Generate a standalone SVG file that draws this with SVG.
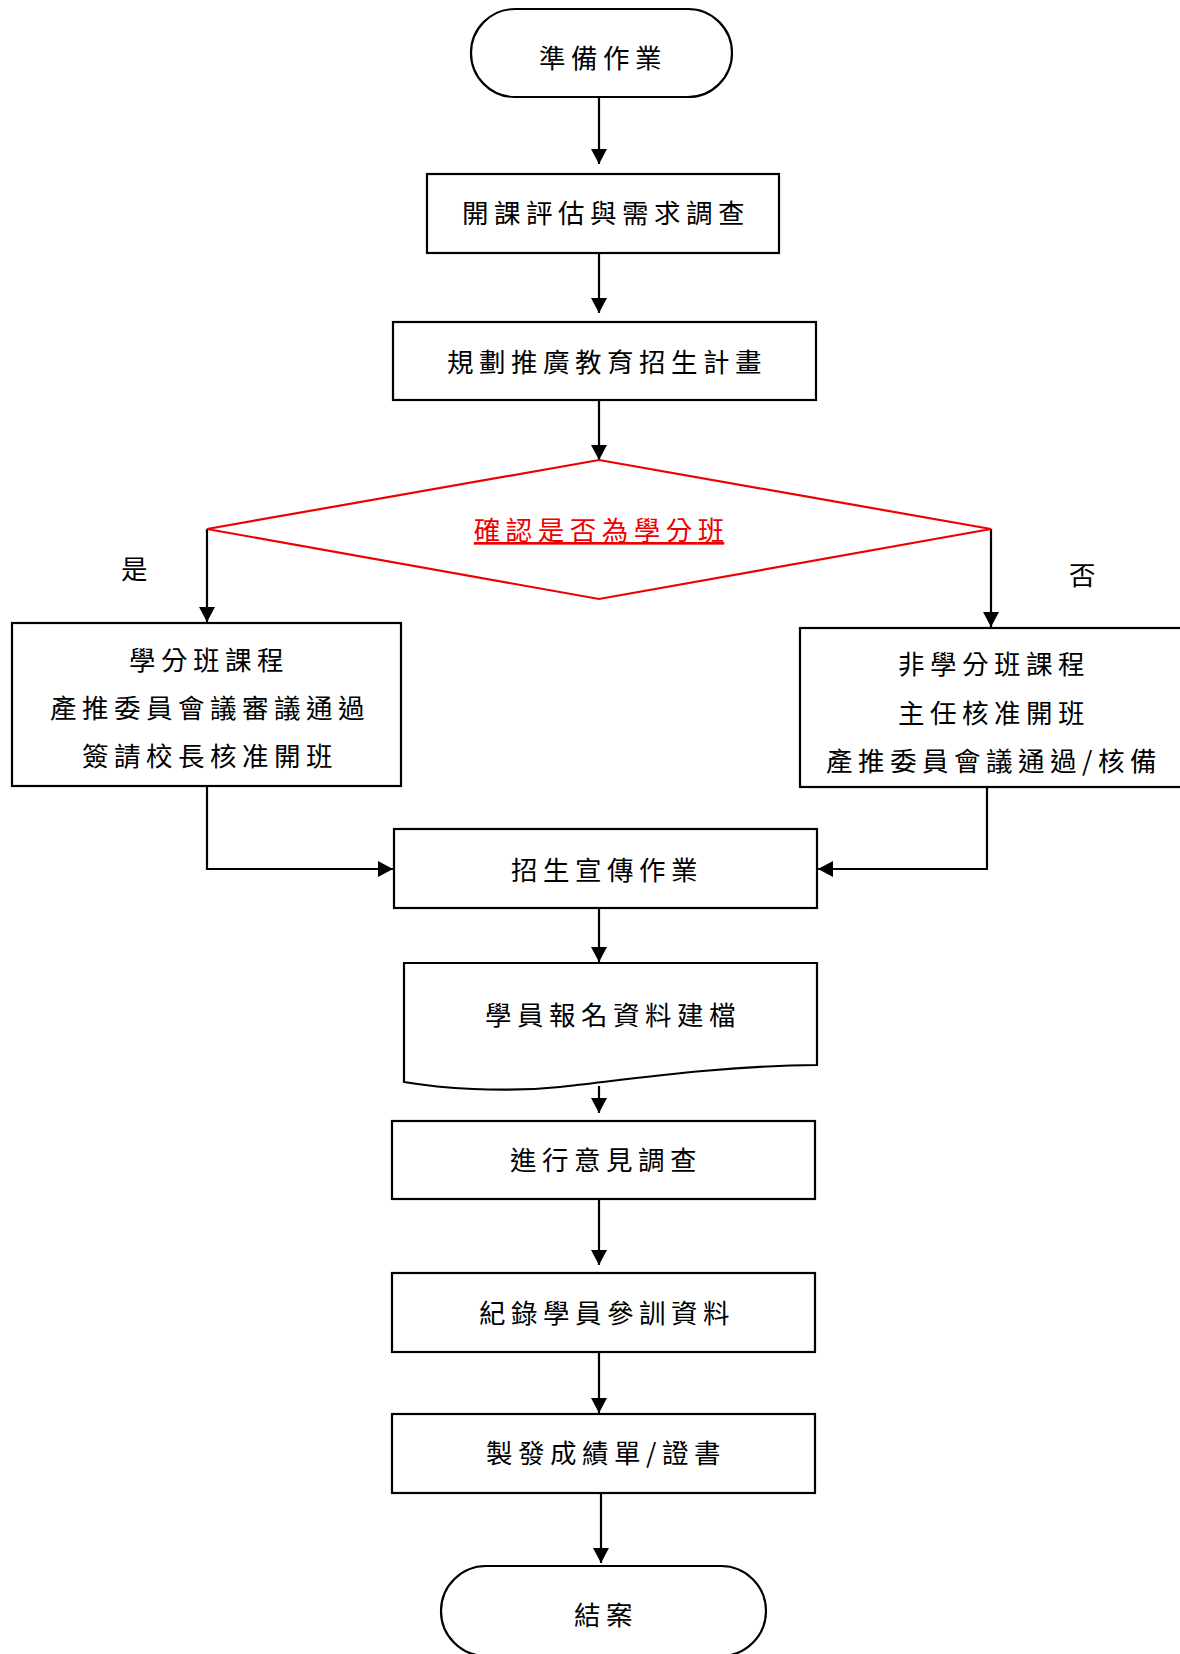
<svg xmlns="http://www.w3.org/2000/svg" width="1180" height="1654" viewBox="0 0 1180 1654">
<style>
.n{fill:#fff;stroke:#000;stroke-width:2.2}
.t{font-family:"Noto Sans CJK TC","Noto Sans CJK SC",sans-serif;font-size:26.5px;letter-spacing:5.5px;fill:#000;text-anchor:middle}
.c{fill:none;stroke:#000;stroke-width:2.2}
.red{fill:#e00;text-decoration:underline}
</style>
<defs>
<marker id="ah" markerUnits="userSpaceOnUse" markerWidth="15" markerHeight="16" refX="15" refY="8" orient="auto">
<path d="M0,0 L15,8 L0,16 z" fill="#000"/>
</marker>
</defs>
<rect width="1180" height="1654" fill="#fff"/>
<g id="connectors">
<path class="c" d="M599,97 V164" marker-end="url(#ah)"/>
<path class="c" d="M599,253 V313" marker-end="url(#ah)"/>
<path class="c" d="M599,400 V460" marker-end="url(#ah)"/>
<path class="c" d="M207,529 V622" marker-end="url(#ah)"/>
<path class="c" d="M991,529 V627" marker-end="url(#ah)"/>
<path class="c" d="M207,786 V869 H393" marker-end="url(#ah)"/>
<path class="c" d="M987,787 V869 H818" marker-end="url(#ah)"/>
<path class="c" d="M599,908 V962" marker-end="url(#ah)"/>
<path class="c" d="M599,1086 V1113" marker-end="url(#ah)"/>
<path class="c" d="M599,1199 V1265" marker-end="url(#ah)"/>
<path class="c" d="M599,1352 V1413" marker-end="url(#ah)"/>
<path class="c" d="M601,1493 V1563" marker-end="url(#ah)"/>
<text class="t" x="137" y="579">是</text>
<text class="t" x="1085" y="585">否</text>
</g>
<g id="start">
<rect class="n" x="471" y="9" width="261" height="88" rx="44" ry="44"/>
<text class="t" x="603" y="68">準備作業</text>
</g>
<g id="assess">
<rect class="n" x="427" y="174" width="352" height="79"/>
<text class="t" x="606" y="223">開課評估與需求調查</text>
</g>
<g id="plan">
<rect class="n" x="393" y="322" width="423" height="78"/>
<text class="t" x="607" y="372">規劃推廣教育招生計畫</text>
</g>
<g id="decision">
<polygon points="599,460 991,529 599,599 207,529" fill="#fff" stroke="#e00" stroke-width="2.2"/>
<text class="t red" x="599" y="540">確認是否為學分<tspan style="letter-spacing:0">班</tspan></text>
</g>
<g id="credit">
<rect class="n" x="12" y="623" width="389" height="163"/>
<text class="t" x="209" y="670">學分班課程</text>
<text class="t" x="210" y="718">產推委員會議審議通過</text>
<text class="t" x="210" y="766">簽請校長核准開班</text>
</g>
<g id="noncredit">
<rect class="n" x="800" y="628" width="390" height="159"/>
<text class="t" x="994" y="674">非學分班課程</text>
<text class="t" x="994" y="723">主任核准開班</text>
<text class="t" x="994" y="771">產推委員會議通過/核備</text>
</g>
<g id="promo">
<rect class="n" x="394" y="829" width="423" height="79"/>
<text class="t" x="607" y="880">招生宣傳作業</text>
</g>
<g id="register">
<path class="n" d="M404,963 H817 V1065 C720,1066 640,1078 560,1087 C500,1093 440,1088 404,1082 Z"/>
<text class="t" x="613" y="1025">學員報名資料建檔</text>
</g>
<g id="survey">
<rect class="n" x="392" y="1121" width="423" height="78"/>
<text class="t" x="606" y="1170">進行意見調查</text>
</g>
<g id="record">
<rect class="n" x="392" y="1273" width="423" height="79"/>
<text class="t" x="607" y="1323">紀錄學員參訓資料</text>
</g>
<g id="cert">
<rect class="n" x="392" y="1414" width="423" height="79"/>
<text class="t" x="606" y="1463">製發成績單/證書</text>
</g>
<g id="end">
<rect class="n" x="441" y="1566" width="325" height="90" rx="45" ry="45"/>
<text class="t" x="606" y="1625">結案</text>
</g>
</svg>
